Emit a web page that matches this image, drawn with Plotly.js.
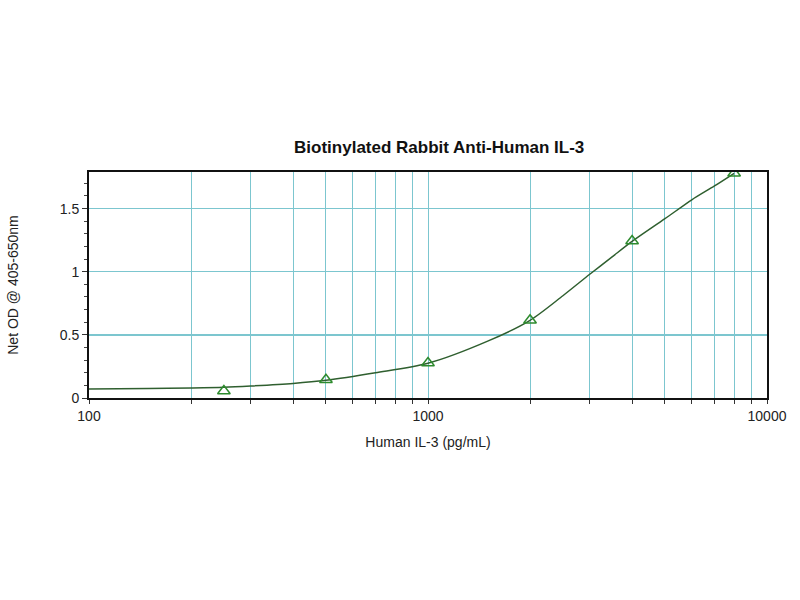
<!DOCTYPE html>
<html>
<head>
<meta charset="utf-8">
<script src="https://cdn.plot.ly/plotly-3.0.1.min.js"></script>
<style>
  html, body { margin: 0; padding: 0; background: #fff; }
  #plot { width: 800px; height: 600px; }
</style>
</head>
<body>
<div id="plot"></div>
<script>
// === Data === //
// standards (pg/mL) and measured OD
var conc = [250, 500, 1000, 2000, 4000, 8000];
var od = [0.055, 0.144, 0.277, 0.616, 1.243, 1.78];

// fitted curve
var fitX = [100, 150, 200, 250, 300, 400, 500, 700, 1000, 1500, 2000, 2500, 3000, 3500, 4000, 5000, 6000, 7000, 8000];
var fitY = [0.072, 0.076, 0.08, 0.085, 0.095, 0.115, 0.14, 0.2, 0.275, 0.45, 0.615, 0.81, 0.98, 1.12, 1.24, 1.42, 1.57, 1.68, 1.78];

// x ticks: every digit, labels only at decades
var xTicks = [100, 200, 300, 400, 500, 600, 700, 800, 900,
              1000, 2000, 3000, 4000, 5000, 6000, 7000, 8000, 9000, 10000];
var xLabels = ['100', '', '', '', '', '', '', '', '',
               '1000', '', '', '', '', '', '', '', '', '10000'];
var yTicks = [0, 0.5, 1, 1.5];
var yLabels = ['0', '0.5', '1', '1.5'];

// === Plot === //
var fit = {
    x: fitX,
    y: fitY,
    type: 'scatter',
    mode: 'lines',
    line: { color: '#2f5f2f', width: 1.5, shape: 'spline', smoothing: 0.8 },
    hoverinfo: 'skip'
};

var points = {
    x: conc,
    y: od,
    type: 'scatter',
    mode: 'markers',
    marker: {
        symbol: 'triangle-up-open',
        size: 11,
        color: '#2e8b2e',
        line: { color: '#2e8b2e', width: 1.5 }
    }
};

var layout = {
    width: 800,
    height: 600,
    showlegend: false,
    paper_bgcolor: '#ffffff',
    plot_bgcolor: '#ffffff',
    margin: { l: 89, r: 33, t: 172, b: 202 },
    font: { family: 'Liberation Sans, Arial, sans-serif', size: 13, color: '#222' },
    title: {
        text: '<b>Biotinylated Rabbit Anti-Human IL-3</b>',
        font: { size: 17, color: '#111' },
        x: 0.549,
        xanchor: 'center',
        y: 0.755,
        yanchor: 'middle'
    },
    xaxis: {
        type: 'log',
        range: [2, 4],
        tickmode: 'array',
        tickvals: xTicks,
        ticktext: xLabels,
        ticks: 'outside',
        ticklen: 4,
        tickcolor: '#333',
        showgrid: true,
        gridcolor: '#7cc6cf',
        gridwidth: 1,
        zeroline: false,
        showline: true,
        linecolor: '#111',
        linewidth: 2,
        mirror: true,
        tickfont: { size: 14 },
        title: { text: 'Human IL-3 (pg/mL)', font: { size: 14 }, standoff: 14 }
    },
    yaxis: {
        range: [0, 1.79],
        tickmode: 'array',
        tickvals: yTicks,
        ticktext: yLabels,
        ticks: 'outside',
        ticklen: 5,
        tickcolor: '#333',
        minor: { dtick: 0.1, ticks: 'outside', ticklen: 3, tickcolor: '#444', showgrid: false },
        showgrid: true,
        gridcolor: '#7cc6cf',
        gridwidth: 1.5,
        zeroline: false,
        showline: true,
        linecolor: '#111',
        linewidth: 2,
        mirror: true,
        tickfont: { size: 14 },
        title: { text: 'Net OD @ 405-650nm', font: { size: 14 }, standoff: 38 }
    }
};

Plotly.newPlot('plot', [fit, points], layout, { staticPlot: true });
</script>
</body>
</html>
